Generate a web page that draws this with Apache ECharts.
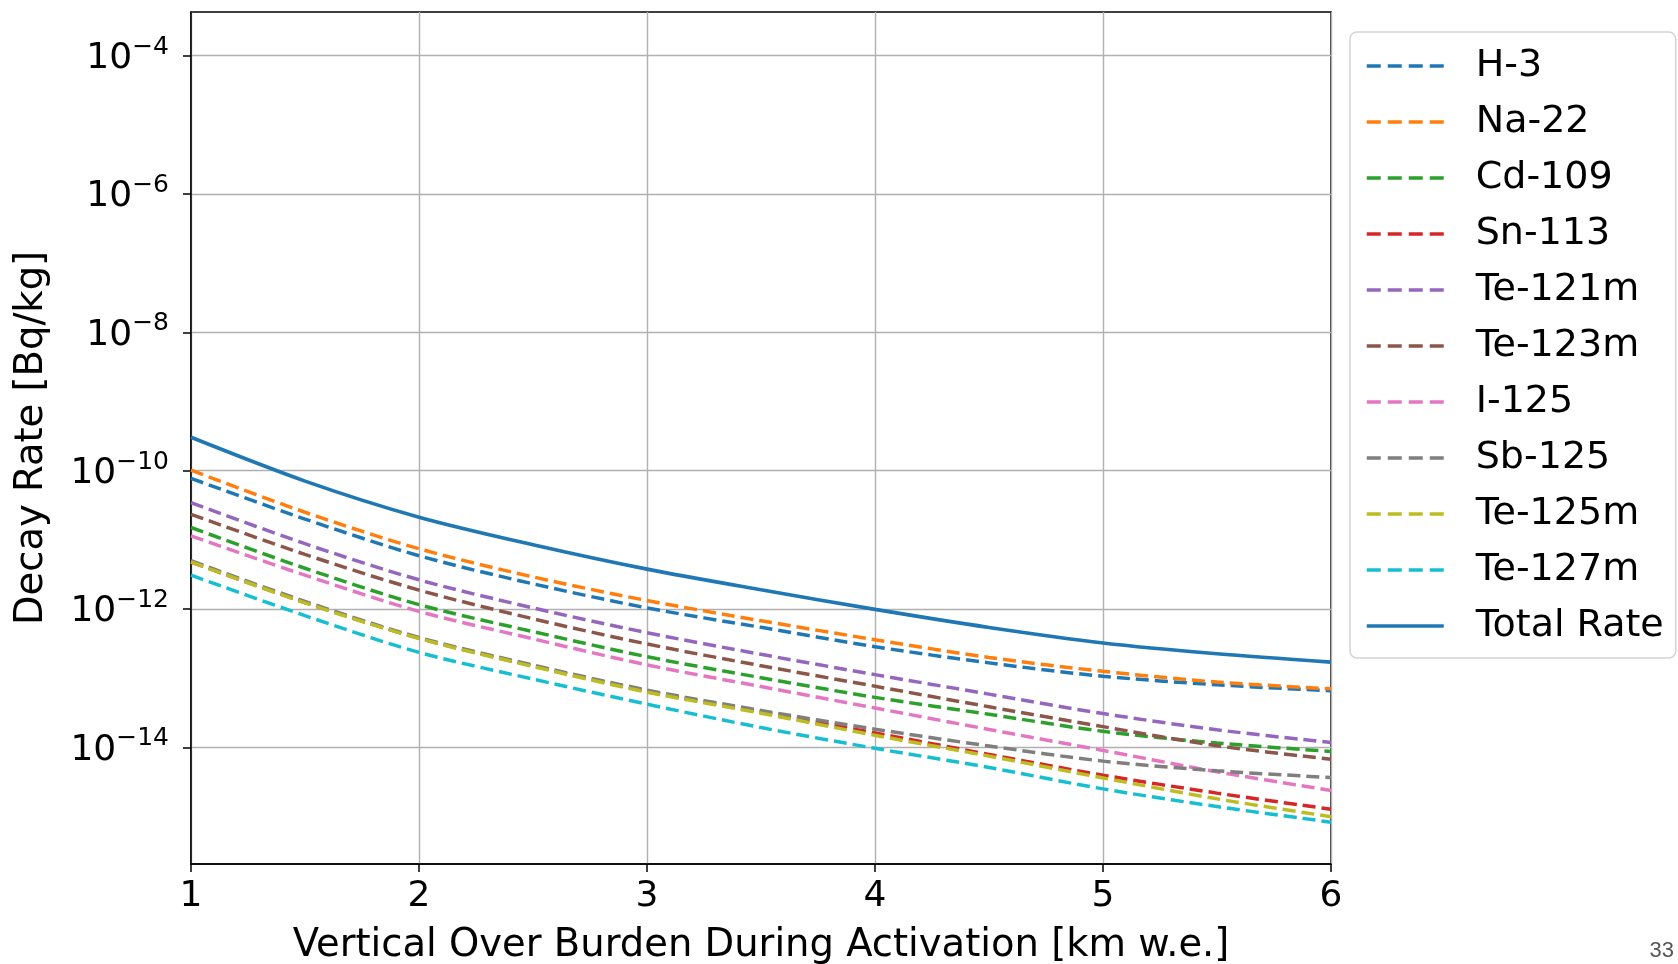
<!DOCTYPE html>
<html>
<head>
<meta charset="utf-8">
<script src="https://cdn.jsdelivr.net/npm/echarts@6/dist/echarts.min.js"></script>
<style>
  html, body { margin: 0; padding: 0; background: #fff; }
  #chart { width: 1678px; height: 964px; }
</style>
</head>
<body>
<div id="chart"></div>
<script>
// Activation overburden [km w.e.]
const xValues = [1, 1.5, 2, 2.5, 3, 3.5, 4, 4.5, 5, 5.5, 6];

// Decay rates [Bq/kg]
const h3     = [7.76e-11, 2.00e-11, 5.90e-12, 2.32e-12, 1.04e-12, 5.45e-13, 2.86e-13, 1.67e-13, 1.07e-13, 8.05e-14, 6.59e-14];
const na22   = [1.02e-10, 2.51e-11, 7.45e-12, 2.92e-12, 1.33e-12, 6.79e-13, 3.61e-13, 2.00e-13, 1.26e-13, 8.81e-14, 7.05e-14];
const cd109  = [1.51e-11, 3.89e-12, 1.16e-12, 4.73e-13, 2.05e-13, 1.02e-13, 5.30e-14, 3.02e-14, 1.71e-14, 1.16e-14, 8.75e-15];
const sn113  = [4.79e-12, 1.245e-12, 3.80e-13, 1.51e-13, 6.46e-14, 3.24e-14, 1.62e-14, 7.94e-15, 3.98e-15, 2.19e-15, 1.28e-15];
const te121m = [3.45e-11, 8.81e-12, 2.65e-12, 1.04e-12, 4.56e-13, 2.22e-13, 1.13e-13, 5.90e-14, 3.09e-14, 1.80e-14, 1.18e-14];
const te123m = [2.34e-11, 6.17e-12, 1.88e-12, 7.24e-13, 3.13e-13, 1.52e-13, 7.67e-14, 3.87e-14, 2.00e-14, 1.06e-14, 6.78e-15];
const i125   = [1.14e-11, 3.09e-12, 9.25e-13, 3.72e-13, 1.56e-13, 7.59e-14, 3.72e-14, 1.82e-14, 9.06e-15, 4.45e-15, 2.39e-15];
const sb125  = [5.00e-12, 1.29e-12, 3.89e-13, 1.55e-13, 6.76e-14, 3.42e-14, 1.84e-14, 1.05e-14, 6.35e-15, 4.60e-15, 3.68e-15];
const te125m = [4.79e-12, 1.23e-12, 3.76e-13, 1.48e-13, 6.31e-14, 3.13e-14, 1.50e-14, 7.50e-15, 3.63e-15, 1.81e-15, 1.00e-15];
const te127m = [3.09e-12, 8.04e-13, 2.37e-13, 9.73e-14, 4.22e-14, 1.94e-14, 9.73e-15, 5.14e-15, 2.52e-15, 1.40e-15, 8.32e-16];
const total  = [3.04e-10, 7.08e-11, 2.13e-11, 8.51e-12, 3.78e-12, 1.90e-12, 9.90e-13, 5.43e-13, 3.24e-13, 2.26e-13, 1.71e-13];

const seriesNames = ['H-3', 'Na-22', 'Cd-109', 'Sn-113', 'Te-121m', 'Te-123m', 'I-125', 'Sb-125', 'Te-125m', 'Te-127m', 'Total Rate'];
const seriesData  = [h3, na22, cd109, sn113, te121m, te123m, i125, sb125, te125m, te127m, total];
const yTickValues = [1e-14, 1e-12, 1e-10, 1e-8, 1e-6, 1e-4];
const xTickValues = [1, 2, 3, 4, 5, 6];

const colors = ['#1f77b4', '#ff7f0e', '#2ca02c', '#d62728', '#9467bd', '#8c564b', '#e377c2', '#7f7f7f', '#bcbd22', '#17becf', '#1f77b4'];
const FONT = 'DejaVu Sans';
const DASH = [13, 6];

const series = seriesNames.map((name, k) => {
  const solid = name === 'Total Rate';
  return {
    name: name,
    type: 'line',
    data: xValues.map((x, i) => [x, seriesData[k][i]]),
    symbol: 'none',
    showSymbol: false,
    smooth: 0.3,
    lineStyle: { color: colors[k], width: solid ? 3.6 : 3.5, type: solid ? 'solid' : DASH },
    itemStyle: { color: colors[k] },
    emphasis: { disabled: true },
    animation: false
  };
});

const legendData = seriesNames.map((name, k) => ({
  name: name,
  itemStyle: { opacity: 0, borderWidth: 0 },
  lineStyle: { color: colors[k], width: 3.5, type: name === 'Total Rate' ? 'solid' : [14, 7], opacity: 1 }
}));

function expLabel(v) {
  const e = Math.round(Math.log10(v));
  if (Math.abs(Math.log10(v) - e) > 1e-6) return '';
  const s = e < 0 ? '\u2212' + (-e) : String(e);
  return '{b|10}{e|' + s + '}';
}

const chart = echarts.init(document.getElementById('chart'), null, { renderer: 'canvas' });
chart.setOption({
  backgroundColor: '#ffffff',
  animation: false,
  grid: {
    left: 191, right: 347, top: 12, bottom: 100,
    outerBoundsMode: 'none',
    containLabel: false,
    show: true, borderColor: '#000', borderWidth: 1.5, backgroundColor: 'transparent'
  },
  xAxis: {
    type: 'value', min: 1, max: 6, interval: 1,
    name: 'Vertical Over Burden During Activation [km w.e.]',
    nameLocation: 'middle', nameGap: 62,
    nameTextStyle: { fontFamily: FONT, fontSize: 38.5, color: '#000' },
    axisLine: { show: true, lineStyle: { color: '#000', width: 1.5 } },
    axisTick: { show: true, inside: false, length: 8, lineStyle: { color: '#000', width: 1.5 } },
    axisLabel: { fontFamily: FONT, fontSize: 36, color: '#000', margin: 15,
      customValues: xTickValues, formatter: v => String(v) },
    splitLine: { show: true, lineStyle: { color: '#b0b0b0', width: 1.4 } }
  },
  yAxis: {
    type: 'log', logBase: 10, min: 2.07e-16, max: 4.26e-4,
    name: 'Decay Rate [Bq/kg]',
    nameLocation: 'middle', nameGap: 140,
    nameTextStyle: { fontFamily: FONT, fontSize: 38.5, color: '#000' },
    axisLine: { show: true, lineStyle: { color: '#000', width: 1.5 } },
    axisTick: { show: true, inside: false, length: 8, lineStyle: { color: '#000', width: 1.5 },
      customValues: yTickValues },
    axisLabel: {
      margin: 22, color: '#000', fontFamily: FONT,
      customValues: yTickValues,
      formatter: expLabel,
      rich: {
        b: { fontFamily: FONT, fontSize: 36, lineHeight: 42, verticalAlign: 'bottom', color: '#000' },
        e: { fontFamily: FONT, fontSize: 25, lineHeight: 25, verticalAlign: 'top', color: '#000' }
      }
    },
    splitLine: { show: true, lineStyle: { color: '#b0b0b0', width: 1.4 } }
  },
  legend: {
    orient: 'vertical',
    left: 1350, top: 32,
    padding: [14, 12, 12, 15],
    itemWidth: 77, itemHeight: 14, itemGap: 16,
    backgroundColor: '#ffffff',
    borderColor: '#d4d4d4', borderWidth: 1.5, borderRadius: 7,
    textStyle: { fontFamily: FONT, fontSize: 38, color: '#000', lineHeight: 40, padding: [0, 0, 0, 27] },
    data: legendData,
    selectedMode: false
  },
  graphic: [{
    type: 'text', right: 4, bottom: 2,
    style: { text: '33', font: '22px "Liberation Sans"', fill: '#555' }
  }],
  series: series
});
</script>
</body>
</html>
